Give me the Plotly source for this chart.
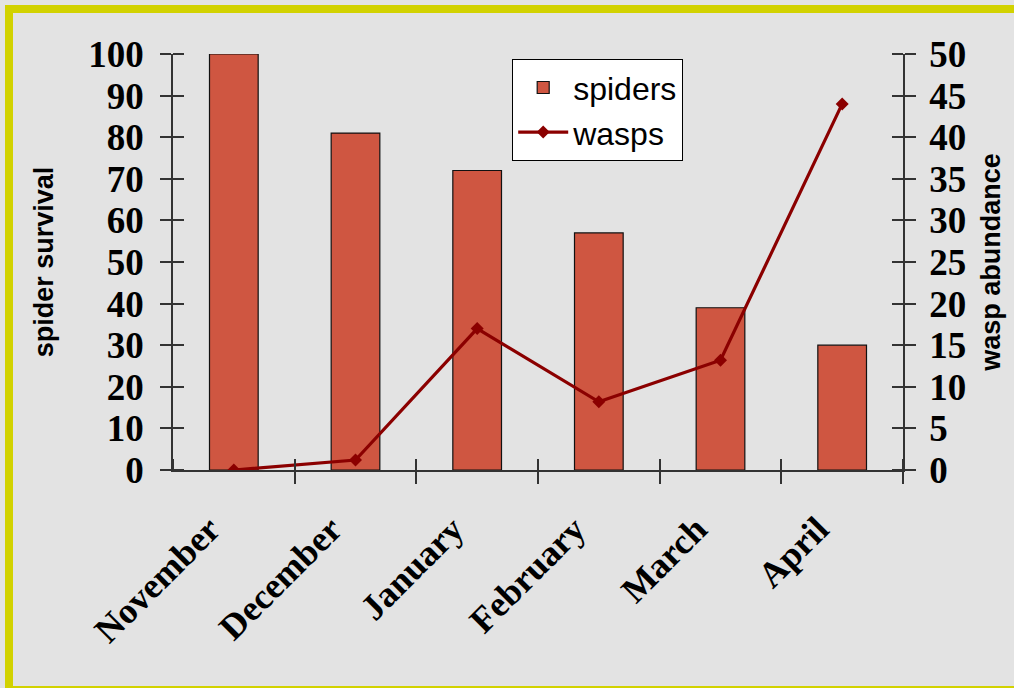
import plotly.graph_objects as go

months = ["November", "December", "January", "February", "March", "April"]
spiders = [100, 81, 72, 57, 39, 30]
wasps = [0, 1.2, 17, 8.2, 13.2, 44]

BG = "#e3e3e3"
BAR = "#cf5641"
LINE = "#8b0000"
AX = "#333333"

idx = list(range(len(months)))
# tick marks sit on the category boundaries; each month label hangs on its right-hand boundary
bounds = [i - 0.5 for i in range(len(months) + 1)]
bound_text = [""] + months

fig = go.Figure()
fig.add_trace(go.Bar(x=idx, y=spiders, name="spiders", width=0.4,
                     marker=dict(color=BAR, line=dict(color="#111111", width=1.2)),
                     yaxis="y"))
fig.add_trace(go.Scatter(x=idx, y=wasps, name="wasps", mode="lines+markers",
                         line=dict(color=LINE, width=3.2),
                         marker=dict(symbol="diamond", size=10, color=LINE),
                         yaxis="y2"))

tick_font = dict(family="Liberation Serif", size=37, color="black", weight="bold")
title_font = dict(family="Liberation Sans", size=27, color="black", weight="bold")

W, H = 1014, 688
ml, mr, mt, mb = 173, 111, 54, 218
pw, ph = W - ml - mr, H - mt - mb

def px(x):
    return (x - ml) / pw

def py(y):
    return (H - mb - y) / ph

half_cat = pw / len(months) / 2

inner = dict(ticks="inside", ticklen=11, tickwidth=1.5, tickcolor=AX, showgrid=False)

fig.update_layout(
    width=W, height=H,
    margin=dict(l=ml, r=mr, t=mt, b=mb, autoexpand=False),
    paper_bgcolor=BG, plot_bgcolor="rgba(0,0,0,0)",
    showlegend=True,
    legend=dict(x=px(512), y=py(59), xanchor="left", yanchor="top",
                bgcolor="white", bordercolor="black", borderwidth=1.2,
                font=dict(family="Liberation Sans", size=32, color="black"),
                itemwidth=50, tracegroupgap=0),
    xaxis=dict(range=[-0.5, len(months) - 0.5], showline=True, linecolor=AX, linewidth=1.5,
               tickmode="array", tickvals=bounds, ticktext=bound_text,
               ticks="outside", ticklen=12, tickwidth=1.5, tickcolor=AX,
               minor=dict(tickmode="array", tickvals=bounds, **inner),
               tickangle=-45,
               tickfont=dict(family="Liberation Serif", size=36, color="black", weight="bold"),
               ticklabelstandoff=10, ticklabelshift=-round(half_cat) - 24,
               showgrid=False, zeroline=False),
    yaxis=dict(range=[0, 100], dtick=10, showline=True, linecolor=AX, linewidth=1.5,
               ticks="outside", ticklen=11, tickwidth=1.5, tickcolor=AX,
               minor=dict(dtick=10, tick0=0, **inner),
               tickfont=tick_font, ticklabelstandoff=9, showgrid=False, zeroline=False,
               title=dict(text="spider survival", font=title_font, standoff=27)),
    yaxis2=dict(range=[0, 50], dtick=5, overlaying="y", side="right", showline=True,
                linecolor=AX, linewidth=1.5, ticks="outside", ticklen=11, tickwidth=1.5,
                tickcolor=AX, minor=dict(dtick=5, tick0=0, **inner),
                tickfont=tick_font, ticklabelstandoff=6, showgrid=False,
                zeroline=False, anchor="x",
                title=dict(text="wasp abundance", font=title_font, standoff=16)),
    shapes=[dict(type="rect", xref="paper", yref="paper",
                 x0=px(9), x1=px(1024), y0=py(690), y1=py(9),
                 line=dict(color="#d2d200", width=8), layer="below")],
)

fig.write_html("out.html", config={"displayModeBar": False},
               post_script="document.body.style.margin='0';document.body.style.overflow='hidden';"
                           "document.body.style.background='" + BG + "';")
